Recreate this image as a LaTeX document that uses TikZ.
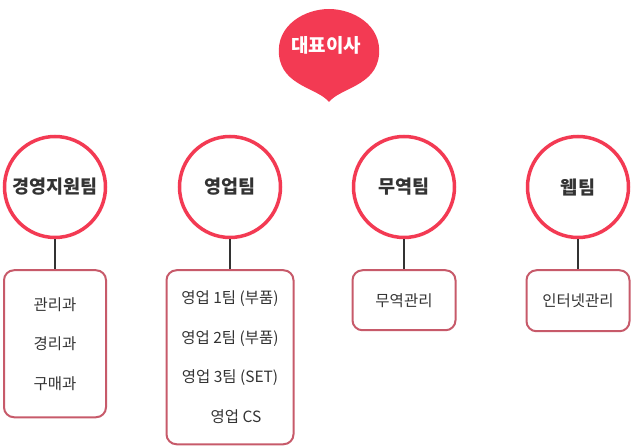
\documentclass[tikz,border=0pt]{standalone}
\usepackage{fontspec}
\setmainfont{Noto Sans CJK KR}
\usetikzlibrary{positioning}
\definecolor{ceored}{HTML}{F33A53}
\definecolor{boxrose}{HTML}{C75A6A}
\definecolor{txtgray}{HTML}{333333}

\begin{document}
\begin{tikzpicture}[x=1pt, y=-1pt,
    team/.style = {circle, draw=ceored, line width=3.5pt, fill=white,
                   minimum size=101pt, inner sep=0pt,
                   font=\fontsize{18.5}{20}\selectfont\bfseries, text=txtgray},
    unit/.style = {rectangle, draw=boxrose, line width=2pt, rounded corners=10pt,
                   inner sep=0pt, align=center,
                   font=\fontsize{15.5}{39.5}\selectfont, text=txtgray},
    link/.style = {draw=txtgray, line width=2pt},
]
\useasboundingbox (0,0) rectangle (632,446);

%% ---- CEO balloon ----
\fill[ceored] (329,102) .. controls (318,88) and (282,86) .. (279,55)
    .. controls (276,25) and (305,9) .. (329,9)
    .. controls (353,9) and (382,25) .. (379,55)
    .. controls (376,86) and (340,88) .. (329,102) -- cycle;
\node[font=\fontsize{19}{21}\selectfont\bfseries, text=white] (ceo) at (326,45) {대표이사};

%% ---- Teams ----
\node[team] (mgmt)  at (55,187)  {경영지원팀};
\node[team] (sales) at (230,187) {영업팀};
\node[team] (trade) at (404,187) {무역팀};
\node[team] (web)   at (578,187) {웹팀};

%% ---- Units ----
\node[unit, minimum width=102pt, minimum height=147pt, below=30pt of mgmt] (mgmt-u)
    {관리과\\경리과\\구매과};
\node[unit, minimum width=127pt, minimum height=174pt, below=30pt of sales] (sales-u)
    {영업 1팀 (부품)\\영업 2팀 (부품)\\영업 3팀 (SET)\\\hspace*{12pt}영업 CS};
\node[unit, minimum width=103pt, minimum height=60pt, below=30pt of trade] (trade-u)
    {무역관리};
\node[unit, minimum width=103pt, minimum height=61pt, below=30pt of web] (web-u)
    {인터넷관리};

%% ---- Links ----
\draw[link] (mgmt)  -- (mgmt-u);
\draw[link] (sales) -- (sales-u);
\draw[link] (trade) -- (trade-u);
\draw[link] (web)   -- (web-u);

\end{tikzpicture}
\end{document}
